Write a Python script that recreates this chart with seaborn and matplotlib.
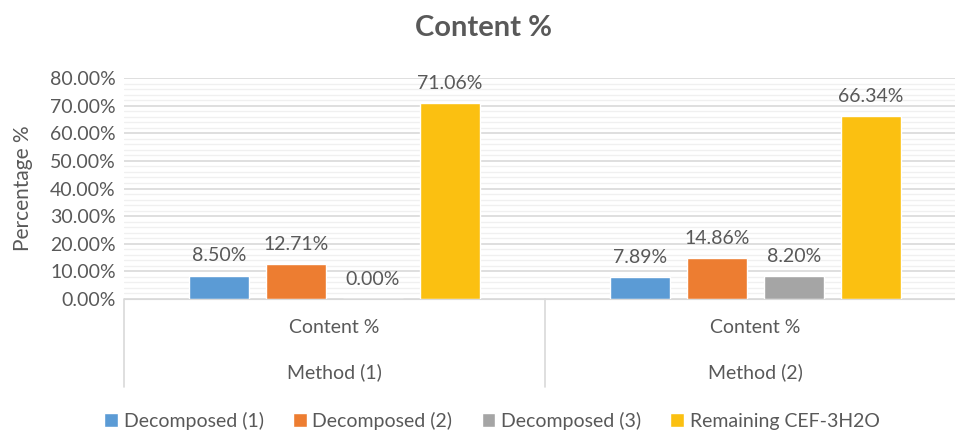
import pandas as pd
import numpy as np
import matplotlib
matplotlib.use("Agg")
import matplotlib.pyplot as plt
import seaborn as sns
from matplotlib.ticker import MultipleLocator, PercentFormatter

methods = ["Method (1)", "Method (2)"]
series = ["Decomposed (1)", "Decomposed (2)", "Decomposed (3)", "Remaining CEF-3H2O"]
method1 = [0.0850, 0.1271, 0.0000, 0.7106]
method2 = [0.0789, 0.1486, 0.0820, 0.6634]
colors = ["#5B9BD5", "#ED7D31", "#A5A5A5", "#FBC011"]

rows = []
for m, vals in zip(methods, [method1, method2]):
    for s, v in zip(series, vals):
        rows.append({"Method": m, "Series": s, "Value": v})
df = pd.DataFrame(rows)

sns.set_style("white")
plt.rcParams['font.family'] = ['Lato', 'DejaVu Sans']
txt = "#595959"

fig = plt.figure(figsize=(9.55, 4.32), dpi=100)
ax = fig.add_axes([124/955, 133/432, 842/955, 221/432])

sns.barplot(data=df, x="Method", y="Value", hue="Series", palette=colors,
            width=0.732, gap=0.22, saturation=1, ax=ax, legend=True)

ax.set_ylim(0, 0.8)
ax.set_xlim(-0.5, 1.5)
ax.yaxis.set_major_locator(MultipleLocator(0.1))
ax.yaxis.set_minor_locator(MultipleLocator(0.02))
ax.yaxis.set_major_formatter(PercentFormatter(1.0, decimals=2))
ax.grid(axis="y", which="major", color="#D9D9D9", linewidth=1.2)
ax.grid(axis="y", which="minor", color="#F0F0F0", linewidth=1.0)
ax.set_axisbelow(True)
ax.tick_params(axis="y", length=0, labelsize=14, colors=txt, pad=6)
ax.tick_params(axis="x", length=0, labelbottom=False)
for sp in ["top", "right", "left"]:
    ax.spines[sp].set_visible(False)
ax.spines["bottom"].set_color("#D9D9D9")
ax.set_xlabel("")
ax.set_ylabel("Percentage %", fontsize=15, color=txt, labelpad=12)

for cont in ax.containers:
    ax.bar_label(cont, labels=[f"{v*100:.2f}%" for v in cont.datavalues],
                 padding=8, fontsize=14, color=txt)

# two-level category axis
trans = ax.get_xaxis_transform()
for xb in [-0.5, 0.5, 1.5]:
    ax.plot([xb, xb], [0, -0.40], transform=trans, color="#D9D9D9",
            linewidth=1.2, clip_on=False)
for i, m in enumerate(methods):
    ax.text(i, -0.131, "Content %", transform=trans, ha="center", va="center",
            fontsize=14, color=txt)
    ax.text(i, -0.33, m, transform=trans, ha="center", va="center",
            fontsize=14, color=txt)

handles, labels = ax.get_legend_handles_labels()
ax.get_legend().remove()
fig.legend(handles, labels, loc="center", bbox_to_anchor=(492/955, 1 - 421/432),
           ncol=4, frameon=False, fontsize=14, handlelength=0.7,
           handleheight=0.7, handletextpad=0.3, columnspacing=1.5,
           labelcolor=txt)

fig.text(483/955, 1 - 28/432, "Content %", ha="center", va="center",
         fontsize=21, fontweight="bold", color=txt)

fig.savefig("out.png", dpi=100)
